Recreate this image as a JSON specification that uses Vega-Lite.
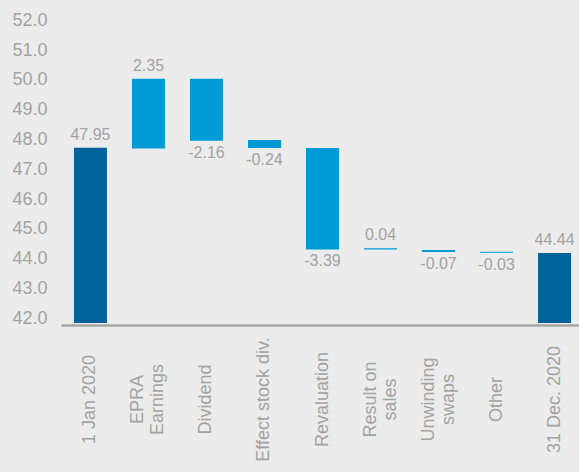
{
  "$schema": "https://vega.github.io/schema/vega-lite/v6.json",
  "width": 518,
  "height": 323,
  "autosize": {"type": "none"},
  "padding": {"left": 61, "top": 0, "right": 0, "bottom": 149},
  "background": "#ebeceb",
  "config": {
    "view": {"stroke": null},
    "font": "Liberation Sans",
    "axisY": {"labelOverlap": false, "labelFontSize": 18, "labelColor": "#a3a3a3"}
  },
  "data": {
    "values": [
      {"step": "1 Jan 2020", "lo": 41.84, "hi": 47.72, "label": "47.95", "kind": "total", "dir": "up"},
      {"step": "EPRA|Earnings", "lo": 47.70, "hi": 50.04, "label": "2.35", "kind": "change", "dir": "up"},
      {"step": "Dividend", "lo": 47.96, "hi": 50.04, "label": "-2.16", "kind": "change", "dir": "down"},
      {"step": "Effect stock div.", "lo": 47.71, "hi": 47.98, "label": "-0.24", "kind": "change", "dir": "down"},
      {"step": "Revaluation", "lo": 44.31, "hi": 47.71, "label": "-3.39", "kind": "change", "dir": "down"},
      {"step": "Result on|sales", "lo": 44.31, "hi": 44.35, "label": "0.04", "kind": "change", "dir": "up"},
      {"step": "Unwinding|swaps", "lo": 44.22, "hi": 44.29, "label": "-0.07", "kind": "change", "dir": "down"},
      {"step": "Other", "lo": 44.20, "hi": 44.23, "label": "-0.03", "kind": "change", "dir": "down"},
      {"step": "31 Dec. 2020", "lo": 41.84, "hi": 44.19, "label": "44.44", "kind": "total", "dir": "up"}
    ]
  },
  "encoding": {
    "x": {
      "field": "step",
      "type": "nominal",
      "sort": null,
      "scale": {"paddingInner": 0.431, "paddingOuter": 0.18, "align": 0.62},
      "axis": {
        "title": null,
        "labelAngle": 270,
        "labelAlign": "center",
        "labelBaseline": "middle",
        "labelPadding": 74,
        "offset": 2,
        "ticks": false,
        "tickSize": 0,
        "domainColor": "#a6a6a6",
        "domainWidth": 2.6,
        "labelFontSize": 18,
        "labelColor": "#a3a3a3",
        "labelLineHeight": 20,
        "labelLimit": 0,
        "labelOverlap": false,
        "labelOffset": {"condition": {"test": "indexof(datum.label, '|') >= 0", "value": -10}, "value": 0},
        "labelExpr": "split(datum.label, '|')"
      }
    }
  },
  "layer": [
    {
      "mark": {"type": "bar"},
      "encoding": {
        "y": {
          "field": "lo",
          "type": "quantitative",
          "scale": {"domain": [41.84, 52.68], "nice": false, "zero": false},
          "axis": {
            "title": null,
            "values": [42, 43, 44, 45, 46, 47, 48, 49, 50, 51, 52],
            "format": ".1f",
            "domain": false,
            "grid": false,
            "ticks": false,
            "tickSize": 0,
            "labelPadding": 14,
            "labelOverlap": false
          }
        },
        "y2": {"field": "hi"},
        "color": {
          "field": "kind",
          "type": "nominal",
          "scale": {"domain": ["total", "change"], "range": ["#00649a", "#009bd6"]},
          "legend": null
        }
      }
    },
    {
      "transform": [{"filter": "datum.dir == 'up'"}],
      "mark": {"type": "text", "baseline": "bottom", "dy": -5, "fontSize": 16, "color": "#a3a3a3"},
      "encoding": {
        "y": {
          "field": "hi",
          "type": "quantitative",
          "axis": {
            "title": null,
            "values": [42, 43, 44, 45, 46, 47, 48, 49, 50, 51, 52],
            "format": ".1f",
            "domain": false,
            "grid": false,
            "ticks": false,
            "tickSize": 0,
            "labelPadding": 14,
            "labelOverlap": false
          }
        },
        "text": {"field": "label"}
      }
    },
    {
      "transform": [{"filter": "datum.dir == 'down'"}],
      "mark": {"type": "text", "baseline": "top", "dy": 4, "fontSize": 16, "color": "#a3a3a3"},
      "encoding": {
        "y": {
          "field": "lo",
          "type": "quantitative",
          "axis": {
            "title": null,
            "values": [42, 43, 44, 45, 46, 47, 48, 49, 50, 51, 52],
            "format": ".1f",
            "domain": false,
            "grid": false,
            "ticks": false,
            "tickSize": 0,
            "labelPadding": 14,
            "labelOverlap": false
          }
        },
        "text": {"field": "label"}
      }
    }
  ]
}
